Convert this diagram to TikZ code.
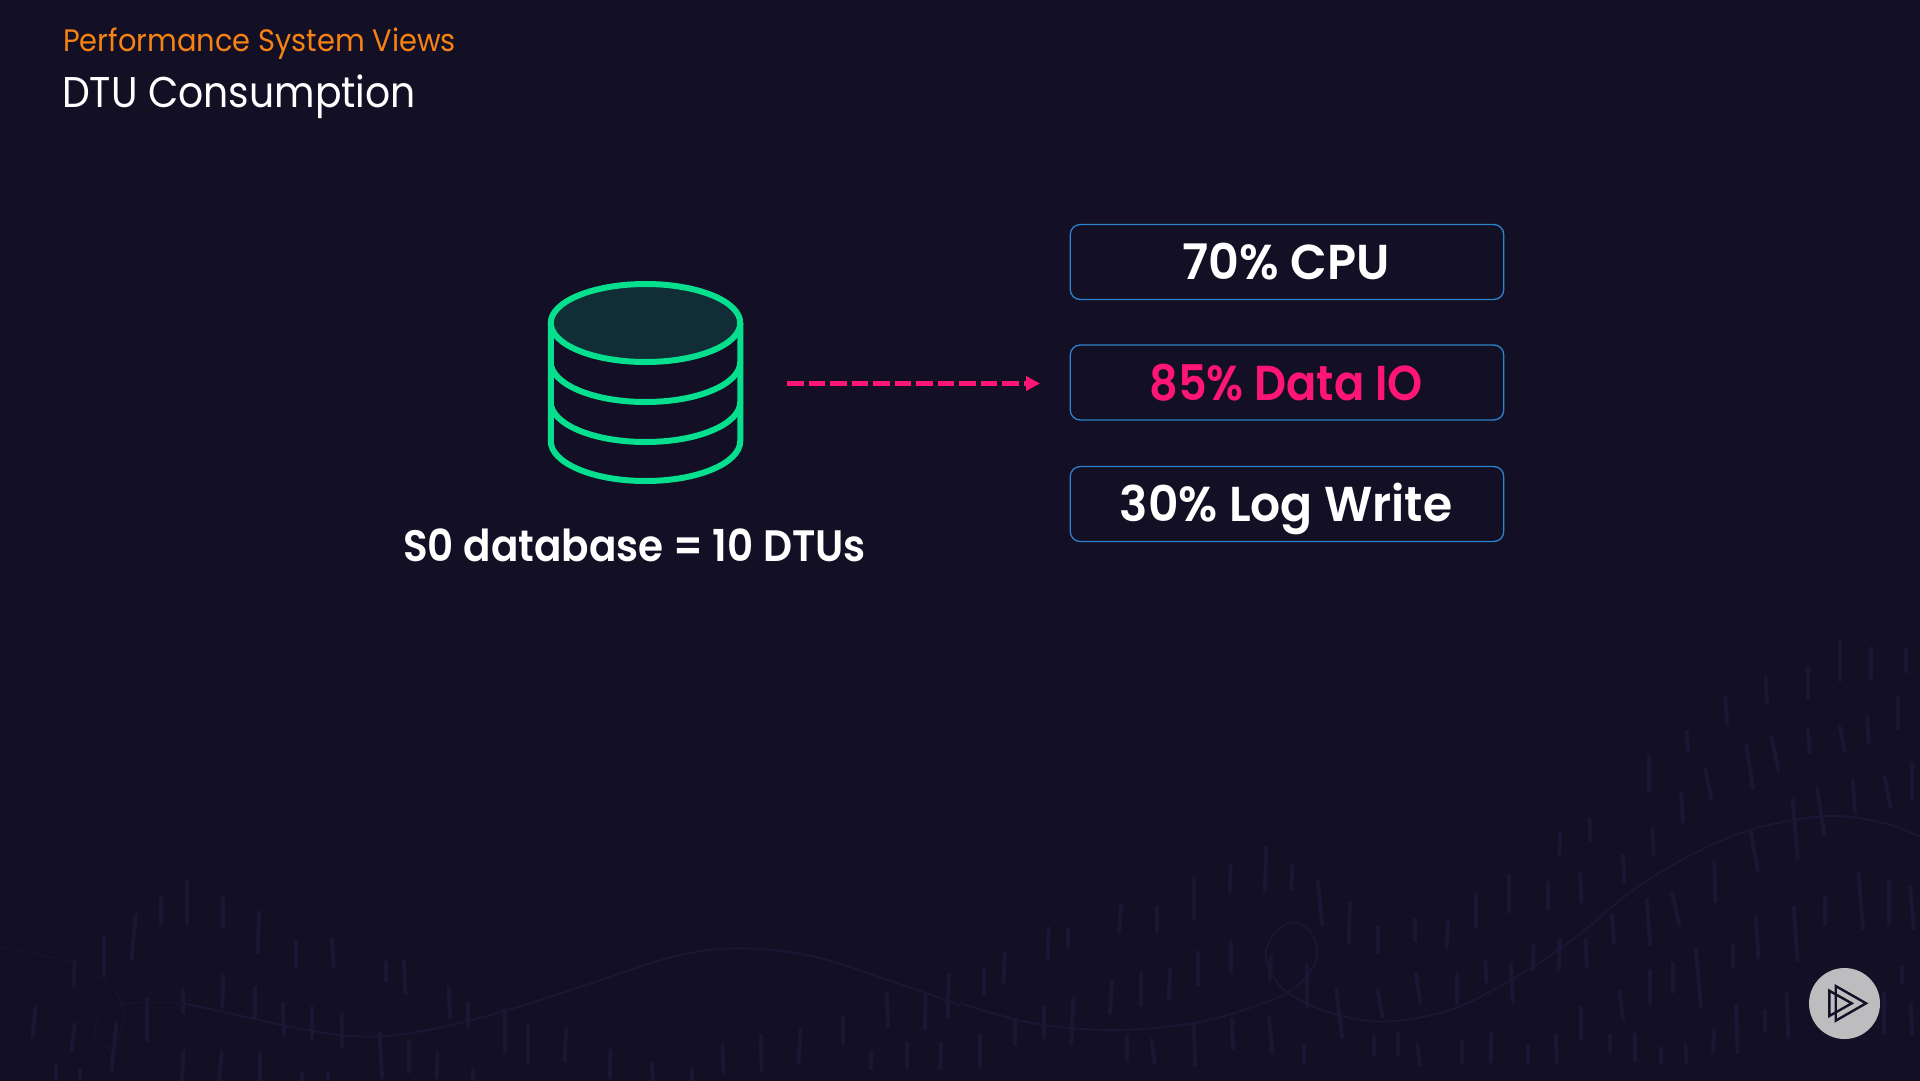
\documentclass[tikz,border=0pt]{standalone}
\usepackage{fontspec}
\usetikzlibrary{arrows.meta}
\setmainfont{Poppins}
\newfontfamily\popmed{Poppins SemiBold}
\definecolor{bgc}{HTML}{130F25}
\definecolor{tickc}{HTML}{1A1634}
\definecolor{wavec}{HTML}{1A1633}
\definecolor{faintc}{HTML}{17132C}
\definecolor{greenc}{HTML}{05DF8E}
\definecolor{topc}{HTML}{112D35}
\definecolor{pinkc}{HTML}{FF1675}
\definecolor{orangec}{HTML}{F58213}
\definecolor{bluec}{HTML}{2C84CC}
\definecolor{greyc}{HTML}{BDBDC0}
\tikzset{
  metricbox/.style={draw=bluec,line width=1.3pt,rounded corners=10pt,fill=bgc},
  metrictext/.style={anchor=base,inner sep=0pt,font=\popmed\fontsize{49}{49}\selectfont},
  dbline/.style={draw=greenc,line width=6pt},
  bgtick/.style={draw=tickc,line width=4pt,line cap=round},
  bgwave/.style={draw=wavec,line width=2pt}
}
\begin{document}
\begin{tikzpicture}[x=1pt,y=-1pt]
\useasboundingbox (0,0) rectangle (1920,1080);
\fill[bgc] (-6,-6) rectangle (1926,1086);
% background ticks and wave, left part
\begin{scope}[shift={(0,-840pt)},x=0.6122pt,y=-0.3333pt]
\foreach \a/\b/\c/\d in {305/122/305/250,263/175/263/250,364/175/364/260,222/225/215/355,423/217/421/337,170/290/170/405,483/305/483/382,542/300/545/380,630/367/630/422,660/363/662/458,122/362/120/437,365/408/363/500,417/443/417/535,299/452/299/518,240/478/240/600,462/492/464/583,510/503/510/598,558/523/559/622,733/442/735/530,765/488/765/562,825/510/825/632,58/505/53/590,122/553/117/630,190/553/182/693,620/578/624/712,668/603/668/695,862/557/862/670,925/565/922/660,300/635/297/725,362/637/358/725,425/638/425/725,715/640/713/712,997/632/996/712,91/680/91/725,130/690/130/725,493/700/493/725,536/697/536/725,773/690/773/725,1065/672/1066/725,1131/690/1131/725,1180/615/1182/695,1243/588/1244/692,1308/570/1304/670,1377/530/1377/610,1449/462/1450/560,1512/465/1511/565,1550/405/1548/530,1424/635/1422/685,1481/610/1481/682,1537/612/1536/685}
  {\draw[bgtick] (\a,\b) -- (\c,\d);}
\draw[draw=faintc,line width=1.5pt] plot[smooth,tension=0.6] coordinates {(0,320) (100,360) (170,420) (200,500) (195,590) (175,625) (155,580) (165,520) (210,490) (300,490)};
\draw[bgwave] plot[smooth,tension=0.6] coordinates {(300,490) (400,530) (500,570) (600,590) (700,570) (820,515) (950,440) (1100,350) (1210,325) (1330,350) (1450,420) (1568,495)};
\end{scope}
% background ticks and wave, right part
\begin{scope}[shift={(960pt,-620pt)},x=0.6122pt,y=-0.3333pt]
\foreach \a/\b/\c/\d in {1437/65/1437/180,1488/85/1488/175,1546/90/1546/155,1385/143/1385/232,1316/172/1318/248,1250/230/1253/310,1532/232/1532/325,1187/335/1189/395,1385/330/1388/397,1325/350/1337/450,1437/322/1445/390,1482/293/1484/370,1285/378/1295/505,1125/412/1125/512,1217/447/1227/535,1555/430/1555/535,1178/520/1181/605,1400/505/1412/645,1458/482/1462/575,1510/470/1520/560,1360/540/1368/712,1028/600/1030/660,980/637/979/702,1131/625/1133/702,1292/637/1303/752,500/683/498/810,442/735/441/815,543/738/541/808,1083/707/1085/783,1232/728/1234/843,383/775/383/895,584/782/592/915,896/768/896/875,960/787/960/865,1013/762/1015/845,1468/760/1475/925,1518/782/1518/910,1552/800/1558/925,1163/818/1175/915,1122/840/1127/972,843/823/843/920,637/848/635/968,1413/835/1413/912,263/857/260/935,322/862/322/935,1300/893/1304/1012,1362/862/1368/1020,145/925/143/1018,176/927/176/980,683/922/683/997,743/900/743/962,797/905/795/980,1065/885/1068/968,442/967/442/1055,73/998/71/1090,388/997/388/1095,1022/960/1024/1042,980/960/978/1047,937/977/935/1050,1262/978/1262/1042,1202/987/1210/1160,40/1047/40/1120,508/1010/506/1078,858/1022/860/1085,343/1050/341/1138,295/1062/295/1155,248/1082/245/1180,566/1035/566/1160,900/1035/903/1145,745/1065/752/1148,812/1063/812/1150,1127/1052/1127/1150,1165/1030/1165/1115,1538/1040/1538/1090,185/1137/182/1270,138/1162/138/1253,90/1205/90/1273,615/1110/624/1252,682/1110/690/1188,1077/1115/1083/1195,1014/1163/1014/1258,1350/1118/1353/1252,1268/1158/1270/1298,1315/1172/1315/1232,1510/1118/1510/1240,1553/1155/1555/1240,444/1200/446/1285,505/1192/510/1298,382/1212/384/1335,272/1252/272/1318,313/1260/318/1328,32/1248/32/1340,562/1273/562/1330,677/1250/677/1305,715/1238/715/1305,747/1273/751/1335,820/1262/820/1330,868/1238/867/1325,928/1280/928/1330,973/1247/975/1328,1061/1248/1061/1295,1103/1243/1103/1320,1145/1285/1145/1330,1185/1278/1187/1330,1232/1232/1230/1295}
  {\draw[bgtick] (\a,\b) -- (\c,\d);}
\draw[bgwave] plot[smooth,tension=0.6] coordinates {(0,1150) (120,1210) (250,1230) (380,1210) (480,1160) (550,1100) (583,1010) (570,930) (540,908) (510,950) (500,1020) (530,1110) (600,1175) (690,1205) (800,1170) (900,1080) (1000,960) (1100,810) (1200,700) (1300,625) (1420,588) (1510,610) (1568,650)};
\end{scope}
% titles
\node[anchor=base west,inner sep=0pt,text=orangec,font=\fontsize{31}{31}\selectfont,xscale=0.932] (kicker) at (63,51) {Performance System Views};
\node[anchor=base west,inner sep=0pt,text=white,font=\fontsize{43}{43}\selectfont,xscale=0.914] (title) at (62,107) {DTU Consumption};
% database
\draw[dbline,line join=round] (550.75,323) -- (550.75,441) arc[start angle=180,end angle=360,x radius=94.75pt,y radius=40pt] -- (740.25,323);
\draw[dbline] (550.75,362) arc[start angle=180,end angle=360,x radius=94.75pt,y radius=40pt];
\draw[dbline] (550.75,402) arc[start angle=180,end angle=360,x radius=94.75pt,y radius=40pt];
\draw[dbline,fill=topc] (645.5,323) ellipse[x radius=94.75pt,y radius=39pt];
\node[anchor=base,inner sep=0pt,text=white,font=\popmed\fontsize{44}{44}\selectfont,xscale=0.92] (dblabel) at (634.5,561) {S0 database = 10 DTUs};
% boxes
\node[metricbox,minimum width=433.5pt,minimum height=75pt,inner sep=0pt] (cpu) at (1287,262) {};
\node[metricbox,minimum width=433.5pt,minimum height=75pt,inner sep=0pt] (dataio) at (1287,382.5) {};
\node[metricbox,minimum width=433.5pt,minimum height=75pt,inner sep=0pt] (logw) at (1287,504) {};
\node[metrictext,text=white,xscale=0.975] (cputext) at (1286,279) {70\% CPU};
\node[metrictext,text=pinkc,xscale=0.912] (iotext) at (1286,400) {85\% Data IO};
\node[metrictext,text=white,xscale=0.964] (logtext) at (1286,521) {30\% Log Write};
% arrow
\coordinate (astart) at (787,383.5);
\coordinate (aend) at (1040,383.5);
\draw[pinkc,line width=5pt,dash pattern=on 16.5pt off 5pt,-{Triangle[length=14pt,width=14pt]}] (astart) -- (aend);
% play button
\node[circle,fill=greyc,minimum size=71pt,inner sep=0pt] (play) at (1844.5,1003.5) {};
\draw[bgc,line width=2.4pt,line join=miter] (1835.7,986) -- (1866,1003.3) -- (1835.7,1020.7) -- cycle;
\draw[bgc,line width=2.4pt,line join=miter] (1829.3,990.7) -- (1851.7,1003.3) -- (1829.3,1016) -- cycle;
\end{tikzpicture}
\end{document}
